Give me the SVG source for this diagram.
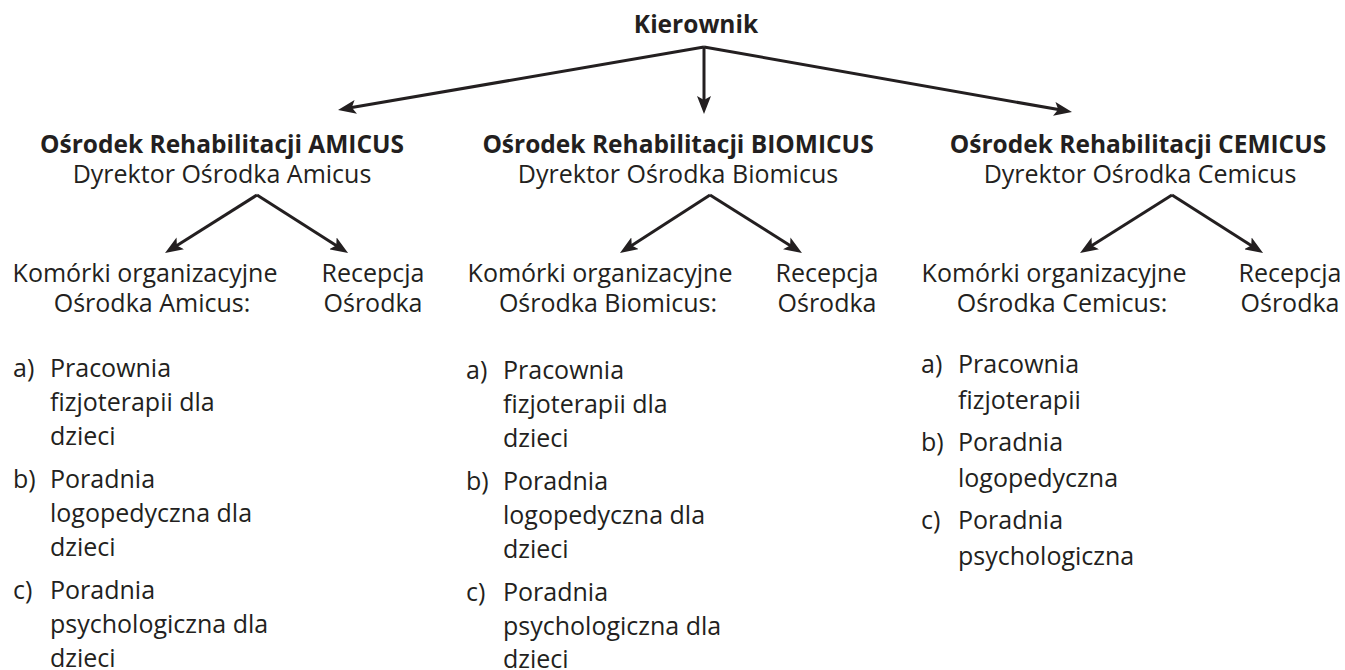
<svg xmlns="http://www.w3.org/2000/svg" width="1345" height="670" viewBox="0 0 1345 670">
<style>
text{font-family:"Open Sans","Noto Sans","Liberation Sans",sans-serif;fill:#231f20;font-size:25px}
.b{font-weight:bold;font-size:24.5px}
.m{text-anchor:middle}
.c line{stroke:#231f20;stroke-width:3;marker-end:url(#ah)}
</style>
<defs>
<marker id="ah" viewBox="0 0 18 14" markerWidth="18" markerHeight="14" refX="10" refY="7" orient="auto" markerUnits="userSpaceOnUse"><path d="M0,0 L18,7 L0,14 L4,7 z" fill="#231f20"/></marker>
</defs>
<rect width="1345" height="670" fill="#fff"/>
<g id="connectors" class="c">
<line x1="704" y1="47" x2="345.9" y2="108.6"/>
<line x1="704" y1="47" x2="704" y2="106"/>
<line x1="704" y1="47" x2="1064.1" y2="110.6"/>
<line x1="257" y1="195" x2="171.8" y2="248.7"/>
<line x1="257" y1="195" x2="341.3" y2="248.7"/>
<line x1="710" y1="195" x2="626.7" y2="248.7"/>
<line x1="710" y1="195" x2="795.2" y2="248.7"/>
<line x1="1172" y1="195" x2="1086.8" y2="248.7"/>
<line x1="1172" y1="195" x2="1256.3" y2="248.7"/>
</g>
<g id="kierownik"><text class="b m" x="696" y="33">Kierownik</text></g>
<g id="amicus">
<text class="b m" x="222" y="153">Ośrodek Rehabilitacji AMICUS</text>
<text class="m" x="222" y="183">Dyrektor Ośrodka Amicus</text>
</g>
<g id="biomicus">
<text class="b m" x="678" y="153">Ośrodek Rehabilitacji BIOMICUS</text>
<text class="m" x="678" y="183">Dyrektor Ośrodka Biomicus</text>
</g>
<g id="cemicus">
<text class="b m" x="1138" y="153">Ośrodek Rehabilitacji CEMICUS</text>
<text class="m" x="1140" y="183">Dyrektor Ośrodka Cemicus</text>
</g>
<g id="komorki-amicus">
<text class="m" x="145" y="282">Komórki organizacyjne</text>
<text class="m" x="152" y="312">Ośrodka Amicus:</text>
</g>
<g id="recepcja-amicus">
<text class="m" x="373" y="282">Recepcja</text>
<text class="m" x="373" y="312">Ośrodka</text>
</g>
<g id="komorki-biomicus">
<text class="m" x="600" y="282">Komórki organizacyjne</text>
<text class="m" x="608" y="312">Ośrodka Biomicus:</text>
</g>
<g id="recepcja-biomicus">
<text class="m" x="827" y="282">Recepcja</text>
<text class="m" x="827" y="312">Ośrodka</text>
</g>
<g id="komorki-cemicus">
<text class="m" x="1054" y="282">Komórki organizacyjne</text>
<text class="m" x="1062" y="312">Ośrodka Cemicus:</text>
</g>
<g id="recepcja-cemicus">
<text class="m" x="1290" y="282">Recepcja</text>
<text class="m" x="1290" y="312">Ośrodka</text>
</g>
<g id="lista-amicus">
<text x="13" y="377">a)</text><text x="50" y="377">Pracownia</text>
<text x="50" y="411">fizjoterapii dla</text>
<text x="50" y="445">dzieci</text>
<text x="13" y="488">b)</text><text x="50" y="488">Poradnia</text>
<text x="50" y="522">logopedyczna dla</text>
<text x="50" y="556">dzieci</text>
<text x="13" y="599">c)</text><text x="50" y="599">Poradnia</text>
<text x="50" y="633">psychologiczna dla</text>
<text x="50" y="667">dzieci</text>
</g>
<g id="lista-biomicus">
<text x="466" y="379">a)</text><text x="503" y="379">Pracownia</text>
<text x="503" y="413">fizjoterapii dla</text>
<text x="503" y="447">dzieci</text>
<text x="466" y="490">b)</text><text x="503" y="490">Poradnia</text>
<text x="503" y="524">logopedyczna dla</text>
<text x="503" y="558">dzieci</text>
<text x="466" y="601">c)</text><text x="503" y="601">Poradnia</text>
<text x="503" y="635">psychologiczna dla</text>
<text x="503" y="668">dzieci</text>
</g>
<g id="lista-cemicus">
<text x="921" y="373">a)</text><text x="958" y="373">Pracownia</text>
<text x="958" y="409">fizjoterapii</text>
<text x="921" y="451">b)</text><text x="958" y="451">Poradnia</text>
<text x="958" y="487">logopedyczna</text>
<text x="921" y="529">c)</text><text x="958" y="529">Poradnia</text>
<text x="958" y="565">psychologiczna</text>
</g>
</svg>
